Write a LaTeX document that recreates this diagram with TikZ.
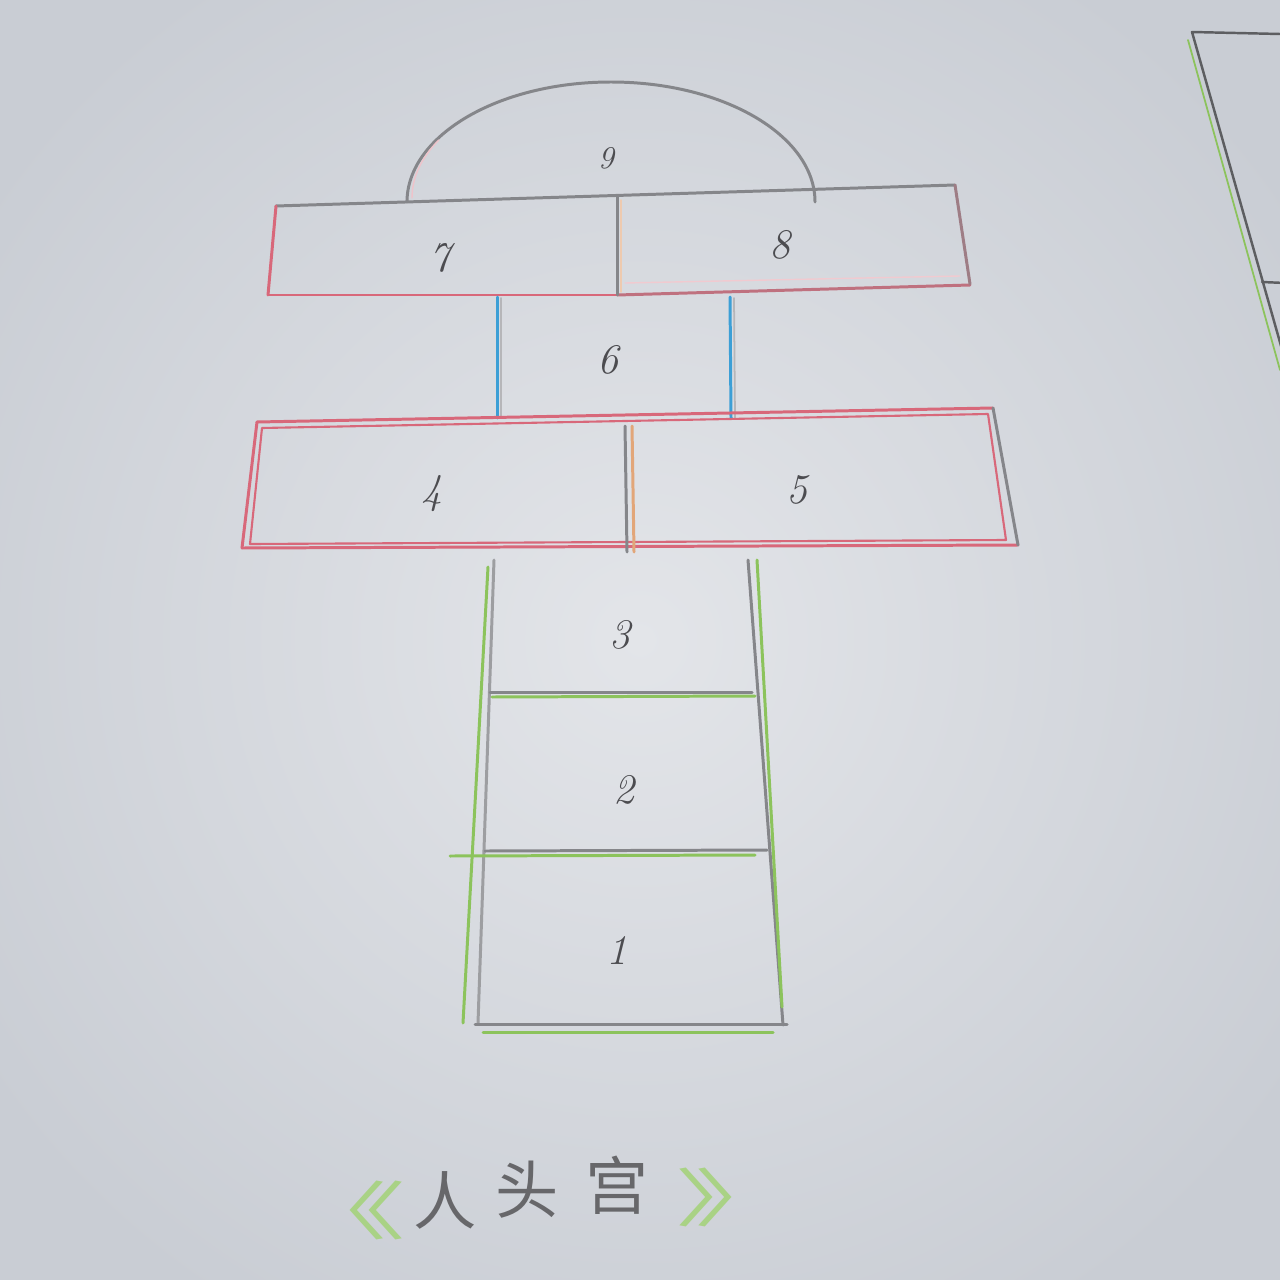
\documentclass[tikz,border=0pt]{standalone}
\usepackage{fontspec}
\newfontfamily\cjk{Noto Sans CJK SC}
\definecolor{paperin}{HTML}{E3E5E9}
\definecolor{paperout}{HTML}{C9CDD4}
\definecolor{pred}{HTML}{D8687A}
\definecolor{pblue}{HTML}{3C9FD6}
\definecolor{pgreen}{HTML}{8CC35C}
\definecolor{pgrey}{HTML}{85868A}
\definecolor{porange}{HTML}{E2A679}
\definecolor{ink}{HTML}{4C4C50}
\tikzset{
  pencil/.style={line width=1.7pt, line cap=round, line join=round},
  numlabel/.style={font=\fontsize{24}{24}\selectfont\itshape, text=ink, inner sep=0pt},
  cjkchar/.style={font=\cjk\fontsize{36}{36}\selectfont, text=ink!85, inner sep=0pt},
  cjkbracket/.style={font=\cjk\fontsize{36}{36}\selectfont, text=pgreen!75, inner sep=0pt, xscale=1.9}
}
\begin{document}
\begin{tikzpicture}[x=0.02cm,y=-0.02cm]
\useasboundingbox (0,0) rectangle (1280,1280);
\shade[inner color=paperin, outer color=paperout] (-150,-150) rectangle (1430,1430);

% ---- semicircle 9
\draw[pencil, pgrey] (407,202) arc[start angle=180, end angle=0, x radius=204, y radius=-120];
\draw[pencil, pred!40, line width=0.8pt] (412,198) arc[start angle=180, end angle=150, x radius=200, y radius=-116];

% ---- row 7/8
\draw[pencil, pgrey] (276,206) -- (955,185);
\draw[pencil, pred] (276,206) -- (268,295);
\draw[pencil, pred] (268,295) -- (617,295);
\draw[pencil, pred!70!pgrey] (617,295) -- (970,285);
\draw[pencil, pgrey!70!pred] (955,185) -- (970,284);
\draw[pencil, pgrey] (617,197) -- (617,295);
\draw[pencil, porange!60, line width=0.8pt] (621,200) -- (621,292);
\draw[pencil, pred!35, line width=0.8pt] (625,283) -- (960,276);

% ---- box 6
\draw[pencil, pblue] (497,297) -- (497,418);
\draw[pencil, pgrey!60, line width=1pt] (501,298) -- (501,418);
\draw[pencil, pblue] (730,297) -- (731,418);
\draw[pencil, pgrey!60, line width=1pt] (734,298) -- (735,418);

% ---- row 4/5
\draw[pencil, pred] (257,422) -- (993,408);
\draw[pencil, pred] (257,422) -- (242,548);
\draw[pencil, pred] (242,548) -- (1018,545);
\draw[pencil, pgrey] (993,408) -- (1018,545);
\draw[pencil, pred, line width=1.2pt] (262,428) -- (988,414) -- (1006,540) -- (250,544) -- cycle;
\draw[pencil, pgrey] (625,426) -- (627,552);
\draw[pencil, porange] (632,426) -- (634,552);

% ---- rows 1-3
\draw[pencil, pgreen] (488,567) -- (463,1023);
\draw[pencil, pgrey!80] (494,560) -- (478,1023);
\draw[pencil, pgrey] (748,560) -- (783,1025);
\draw[pencil, pgreen] (757,560) -- (782,1007);
% line 3/2
\draw[pencil, pgrey] (490,692) -- (752,692);
\draw[pencil, pgreen] (492,697) -- (755,696);
% line 2/1
\draw[pencil, pgrey] (485,851) -- (767,850);
\draw[pencil, pgreen] (450,856) -- (755,855);
% bottom
\draw[pencil, pgrey] (475,1024) -- (787,1024);
\draw[pencil, pgreen] (483,1032) -- (773,1032);

% ---- corner shape at right
\draw[pencil, pgrey!70!black, line width=1.4pt] (1280,34) -- (1192,32) -- (1285,360);
\draw[pencil, pgreen, line width=1pt] (1188,40) -- (1280,370);
\draw[pencil, pgrey!70!black, line width=1.4pt] (1262,282) -- (1285,283);

% ---- labels
\node[numlabel, font=\fontsize{18}{18}\selectfont\itshape] (n9) at (606,158) {9};
\node[numlabel] (n7) at (440,258) {7};
\node[numlabel] (n8) at (780,245) {8};
\node[numlabel] (n6) at (608,360) {6};
\node[numlabel] (n4) at (432,494) {4};
\node[numlabel] (n5) at (797,490) {5};
\node[numlabel] (n3) at (620,635) {3};
\node[numlabel] (n2) at (624,790) {2};
\node[numlabel] (n1) at (617,950) {1};

% ---- title
\node[cjkbracket] (lb) at (347,1210) {《};
\node[cjkchar] (t1) at (445,1200) {人};
\node[cjkchar] (t2) at (527,1190) {头};
\node[cjkchar] (t3) at (617,1185) {宫};
\node[cjkbracket] (rb) at (736,1197) {》};
\end{tikzpicture}
\end{document}
